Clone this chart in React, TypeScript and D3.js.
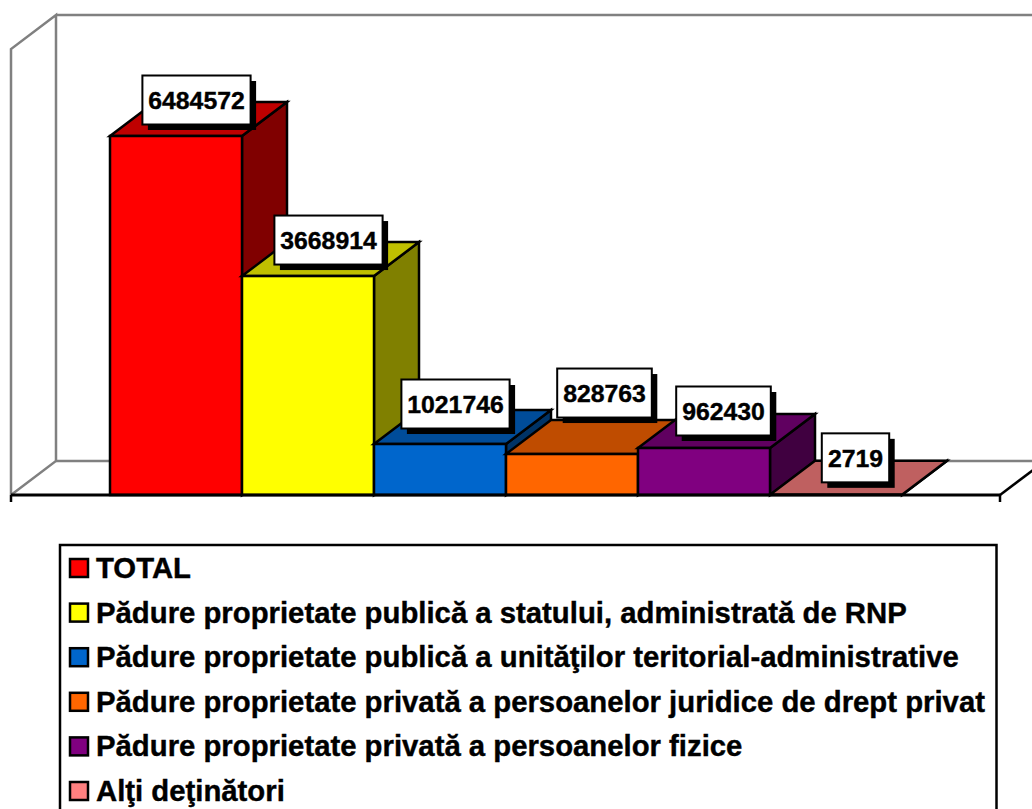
import React from "react";
import * as d3 from "d3";

const width = 1032;
const height = 809;

const categories = [
  "TOTAL",
  "Pădure proprietate publică a statului, administrată de RNP",
  "Pădure proprietate publică a unităţilor teritorial-administrative",
  "Pădure proprietate privată a persoanelor juridice de drept privat",
  "Pădure proprietate privată a persoanelor fizice",
  "Alţi deţinători",
];
const valueLabels = ["6484572", "3668914", "1021746", "828763", "962430", "2719"];
// drawn heights, they do not quite follow the labels
const barValues = [6484572, 3955000, 921000, 740000, 849000, 2719];
const frontColors = ["#ff0000", "#ffff00", "#0066cc", "#ff6600", "#800080", "#ff8080"];
const topColors = ["#bf0000", "#bfbf00", "#004c99", "#bf4c00", "#600060", "#bf6060"];
const sideColors = ["#800000", "#808000", "#003366", "#803300", "#400040", "#804040"];

const floorY = 495;
const depthX = 45;
const depthY = 34;
const wallTop = 15;
const plotLeft = 11;
const plotRight = 1000;

const xScale = d3.scaleBand<number>().domain(d3.range(6)).range([110, 902]);
const yScale = d3.scaleLinear().domain([0, 6484572]).range([floorY, 136]);
const line = d3.line();

// label boxes were dragged by hand in the original chart
const labelNudge = [
  [-2, -19],
  [-2, -19],
  [-7, -23],
  [10, -44],
  [-3, -20],
  [-3, -20],
];
const fontFamily = "'Liberation Sans', Arial, sans-serif";

function Bar({ i }: { i: number }) {
  const x0 = xScale(i)!;
  const x1 = x0 + xScale.bandwidth();
  const y = yScale(barValues[i]);
  const top = line([
    [x0, y],
    [x0 + depthX, y - depthY],
    [x1 + depthX, y - depthY],
    [x1, y],
  ]) + "Z";
  const side = line([
    [x1, y],
    [x1 + depthX, y - depthY],
    [x1 + depthX, floorY - depthY],
    [x1, floorY],
  ]) + "Z";
  return (
    <g stroke="#000" strokeWidth={2.5} strokeLinejoin="miter">
      <path d={side} fill={sideColors[i]} />
      <path d={top} fill={topColors[i]} />
      <rect x={x0} y={y} width={x1 - x0} height={floorY - y} fill={frontColors[i]} />
    </g>
  );
}

function ValueLabel({ i }: { i: number }) {
  const text = valueLabels[i];
  const w = text.length * 13.6 + 13;
  const cx = xScale(i)! + xScale.bandwidth() / 2 + depthX / 2 + labelNudge[i][0];
  const cy = yScale(barValues[i]) - depthY / 2 + labelNudge[i][1];
  return (
    <g>
      <rect x={cx - w / 2 + 5.5} y={cy - 24.5 + 5.5} width={w} height={49} fill="#000" />
      <rect x={cx - w / 2} y={cy - 24.5} width={w} height={49} fill="#fff" stroke="#000" strokeWidth={2} />
      <text
        x={cx}
        y={cy + 9}
        textAnchor="middle"
        fontSize={24.8}
        fontWeight="bold"
        fontFamily={fontFamily}
        stroke="#000"
        strokeWidth={0.4}
      >
        {text}
      </text>
    </g>
  );
}

export default function App() {
  const legendY = d3.scalePoint<number>().domain(d3.range(6)).range([568, 791]);
  return (
    <svg
      width={width}
      height={height}
      viewBox={`0 0 ${width} ${height}`}
      style={{ position: "absolute", left: 0, top: 0, background: "#fff" }}
    >
      {/* walls */}
      <g fill="none" stroke="#808080" strokeWidth={2.5}>
        <path
          d={line([
            [plotLeft, floorY],
            [plotLeft, wallTop + depthY],
            [plotLeft + depthX, wallTop],
            [plotLeft + depthX, floorY - depthY],
            [plotLeft, floorY],
          ])!}
        />
        <path
          d={line([
            [plotLeft + depthX, wallTop],
            [width, wallTop],
          ])!}
        />
        <path
          d={line([
            [plotLeft + depthX, floorY - depthY],
            [width, floorY - depthY],
          ])!}
        />
      </g>
      <g fill="none" stroke="#000" strokeWidth={2.5}>
        <path
          d={line([
            [plotRight, floorY],
            [plotRight + depthX, floorY - depthY],
          ])!}
        />
        <path
          d={line([
            [plotLeft, floorY],
            [plotLeft, floorY + 7],
          ])!}
        />
        <path
          d={line([
            [plotRight, floorY],
            [plotRight, floorY + 7],
          ])!}
        />
      </g>

      {/* left to right, each bar hides the side of the one before it */}
      {d3.range(6).map((i) => (
        <Bar key={i} i={i} />
      ))}
      <path
        d={line([
          [plotLeft, floorY],
          [plotRight, floorY],
        ])!}
        stroke="#000"
        strokeWidth={3}
      />
      {d3.range(6).map((i) => (
        <ValueLabel key={i} i={i} />
      ))}

      {/* legend */}
      <rect x={60} y={545} width={936.5} height={270} fill="#fff" stroke="#000" strokeWidth={2.5} />
      {categories.map((c, i) => {
        const y = legendY(i)!;
        return (
          <g key={c}>
            <rect x={70} y={y - 9} width={18} height={18} fill={frontColors[i]} stroke="#000" strokeWidth={2.5} />
            <text
              x={96}
              y={y + 10}
              fontSize={29.3}
              fontWeight="bold"
              fontFamily={fontFamily}
              stroke="#000"
              strokeWidth={0.4}
            >
              {c}
            </text>
          </g>
        );
      })}
    </svg>
  );
}
